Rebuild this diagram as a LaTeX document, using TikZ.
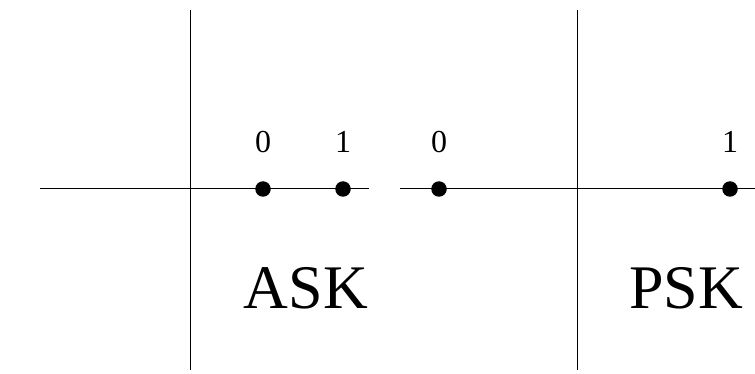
\documentclass[tikz,border=0pt]{standalone}
\usepackage{fontspec}
\setmainfont{Liberation Serif}
\begin{document}
\begin{tikzpicture}[x=1pt,y=-1pt,
  axis/.style={line width=1pt,black},
  dot/.style={circle,fill=black,inner sep=0pt,minimum size=15.5pt},
  bit/.style={font=\fontsize{32}{32}\selectfont,anchor=base,inner sep=0pt},
  title/.style={font=\fontsize{62}{62}\selectfont,anchor=base,inner sep=0pt}]
\useasboundingbox (0,0) rectangle (755,374);
% ASK axes
\coordinate (a1) at (40,189);
\coordinate (a2) at (369,189);
\coordinate (av1) at (190,10);
\coordinate (av2) at (190,370);
\draw[axis] (a1) -- (a2);
\draw[axis] (av1) -- (av2);
\node[dot] (ask0) at (263,189) {};
\node[dot] (ask1) at (343,189) {};
\node[bit] (l0) at (263,153) {0};
\node[bit] (l1) at (343,153) {1};
\node[title] (ask) at (306,308) {ASK};
% PSK axes
\coordinate (p1) at (400,189);
\coordinate (p2) at (755,189);
\coordinate (pv1) at (577,10);
\coordinate (pv2) at (577,370);
\draw[axis] (p1) -- (p2);
\draw[axis] (pv1) -- (pv2);
\node[dot] (psk0) at (439,189) {};
\node[dot] (psk1) at (730,189) {};
\node[bit] (m0) at (439,153) {0};
\node[bit] (m1) at (730,153) {1};
\node[title] (psk) at (686,308) {PSK};
\end{tikzpicture}
\end{document}
